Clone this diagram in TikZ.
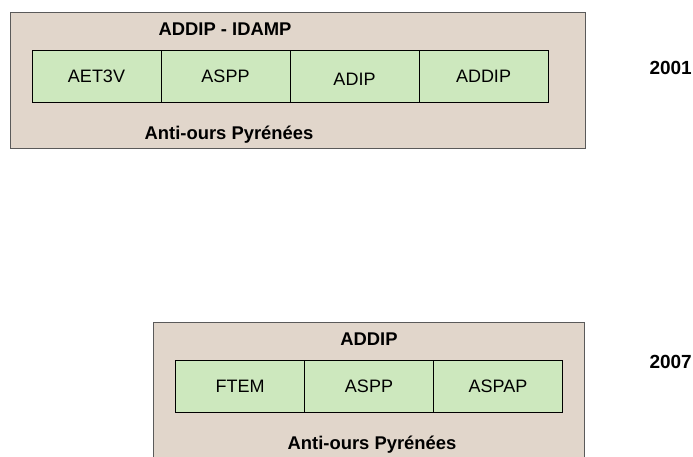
\documentclass[tikz,border=0pt]{standalone}
\usepackage{fontspec}
\setmainfont{Liberation Sans}
\usepackage{xcolor}
\usepackage{tikz}
\usetikzlibrary{positioning}
\definecolor{framegray}{RGB}{90,90,90}
\definecolor{frameback}{RGB}{225,214,203}
\definecolor{cellgreen}{RGB}{205,232,190}

\begin{document}
\begin{tikzpicture}[x=1pt,y=-1pt,node distance=0pt,frame/.style={draw=framegray,fill=frameback,line width=0.9pt,outer sep=0pt},cell/.style={draw=black,fill=cellgreen,line width=0.9pt,minimum width=129pt,minimum height=52pt,inner sep=0pt,outer sep=0pt,font=\fontsize{18}{21}\selectfont},head/.style={inner sep=0pt,font=\fontsize{18.4}{21}\selectfont\bfseries},year/.style={anchor=east,inner sep=0pt,font=\fontsize{19}{21}\selectfont\bfseries}]
\useasboundingbox (0,0) rectangle (693,456);
\clip (0,0) rectangle (693,456);
% 2001
\node[frame,minimum width=575pt,minimum height=136pt] (F1) at (297.5,80) {};
\node[cell] (A1) at (96.5,76) {AET3V};
\node[cell,right=of A1] (A2) {ASPP};
\node[cell,right=of A2] (A3) {\raisebox{-3pt}[13pt][0pt]{ADIP}};
\node[cell,right=of A3] (A4) {ADDIP};
\node[head] (T1) at (225,29) {ADDIP - IDAMP};
\node[head] (B1) at (229,135) {Anti-ours Pyrénées};
\node[year] (Y1) at (692,68) {2001};
% 2007
\node[frame,minimum width=431pt,minimum height=160pt] (F2) at (368.5,402) {};
\node[cell] (C1) at (240,386) {FTEM};
\node[cell,right=of C1] (C2) {ASPP};
\node[cell,right=of C2] (C3) {ASPAP};
\node[head] (T2) at (369,339) {ADDIP};
\node[head] (B2) at (372,445) {Anti-ours Pyrénées};
\node[year] (Y2) at (692,362) {2007};
\end{tikzpicture}
\end{document}
